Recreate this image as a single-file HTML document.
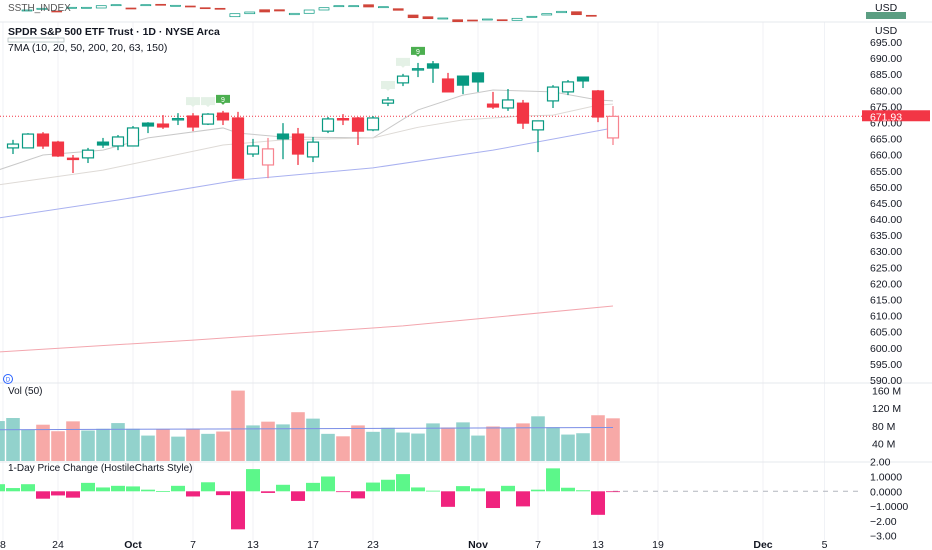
<!DOCTYPE html>
<html><head><meta charset="utf-8"><style>
html,body{margin:0;padding:0;background:#fff;width:932px;height:550px;overflow:hidden}
svg{display:block;font-family:"Liberation Sans",sans-serif}
</style></head><body>
<svg id="chart" width="932" height="550" xmlns="http://www.w3.org/2000/svg">
<rect x="0" y="0" width="932" height="550" fill="#ffffff"/>
<g id="grid"></g>
<g id="mini"></g>
<g id="mas"></g>
<g id="candles"></g>
<g id="bubbles"></g>
<g id="vol"></g>
<g id="chg"></g>
<g id="axes"></g>
<text x="8" y="11" font-size="10" fill="#555">SSTH_INDEX</text>
<text x="8" y="35" font-size="10.5" font-weight="bold" fill="#131722">SPDR S&amp;P 500 ETF Trust · 1D · NYSE Arca</text>
<rect x="8" y="38" width="56" height="4" fill="none" stroke="#9aa" stroke-width="0.6"/>
<text x="8" y="51" font-size="10.5" fill="#131722">7MA (10, 20, 50, 200, 20, 63, 150)</text>
<circle cx="8" cy="379" r="4.5" fill="none" stroke="#2962ff" stroke-width="1"/>
<text x="8" y="381.5" font-size="6" fill="#2962ff" text-anchor="middle">D</text>
<text x="8" y="394" font-size="10" fill="#131722">Vol (50)</text>
<text x="8" y="471" font-size="10" fill="#131722">1-Day Price Change (HostileCharts Style)</text>
</svg>
<script>
const NS='http://www.w3.org/2000/svg';
// ---- main candle data (index k: 0..40) ----
const opens=[662.1,662.1,666.4,663.9,658.9,659.0,663.9,662.7,662.7,669.8,669.5,671.0,672.0,669.5,672.9,671.4,660.2,656.8,666.4,666.4,659.3,667.3,671.2,671.4,667.7,676.0,682.3,686.5,688.2,683.5,684.4,685.4,675.7,674.5,676.0,667.7,676.7,679.5,684.1,679.8,665.2];
const highs=[664.6,666.7,667.0,664.3,659.9,662.1,665.2,666.1,668.9,670.1,672.3,672.9,672.9,672.9,673.6,673.3,664.9,665.2,669.8,668.3,665.5,671.7,672.6,671.7,672.0,677.9,685.1,688.5,689.1,685.4,684.4,685.4,679.5,680.4,677.0,670.5,681.6,683.2,684.1,680.1,675.1];
const lows=[660.2,662.1,661.8,659.3,654.3,657.4,662.1,661.4,662.7,666.7,668.0,669.2,667.3,669.2,669.2,652.7,659.3,652.7,658.6,656.8,657.7,666.7,669.2,663.0,667.3,675.1,681.3,684.1,682.3,679.5,678.8,679.5,674.2,673.6,668.0,660.8,674.5,678.5,680.7,670.1,663.0];
const closes=[663.3,666.4,662.7,659.6,658.6,661.4,663.0,665.5,668.3,668.9,668.6,671.2,668.6,672.6,670.8,652.7,662.7,661.8,664.9,660.2,663.9,671.1,671.0,667.3,671.4,677.0,684.4,686.7,686.9,679.5,681.6,682.6,674.8,677.0,669.8,670.5,681.0,682.6,682.9,671.7,671.9];
const styles=['h','h','r','r','r','h','g','h','h','g','r','h','r','h','r','r','h','hr','g','r','h','h','r','r','h','h','h','h','g','r','g','g','r','h','r','h','h','h','g','r','hr'];
// ---- moving averages (index, price) ----
const ma10Idx=[-1,2,6,9,14,15,18,24,27,30,32,36,39,40];
const ma10Val=[655.2,659.9,661.4,665.2,668.3,666.7,665.5,665.2,673.9,678.5,680.1,679.5,677.0,676.7];
const ma20Idx=[-1,6,14,18,24,27,30,34,36,39,40];
const ma20Val=[650.6,655.2,663.0,664.6,665.2,668.5,670.8,672.0,672.3,675.4,675.7];
const ma50Idx=[-1,7,15,24,32,40];
const ma50Val=[640.3,645.9,652.1,655.9,661.4,668.3];
const ma200Idx=[-1,12,26,40];
const ma200Val=[598.7,602.4,606.8,613.0];
// ---- volume (index -1..40), millions ----
const volumes=[90.8,97.7,70.9,82.5,67.7,90.1,69.3,73.2,86.2,73.2,57.8,71.6,55.4,73.2,61.7,67,160,80.9,89.4,83.2,110.9,96.3,61.7,56.1,80.9,66.3,75.5,64.7,62.4,85.5,76.2,87.8,57.8,78.5,75.5,85.5,101.6,76.9,60.1,63.1,104,97];
const volUp=[1,1,1,0,0,0,1,1,1,1,1,0,1,0,1,0,0,1,0,1,0,1,1,0,0,1,1,1,1,1,0,1,1,0,1,0,1,1,1,1,0,0];
const volMA=[71,76];
// ---- 1-day change (index -1..40) ----
const changes=[0.48,0.22,0.48,-0.5,-0.28,-0.43,0.57,0.26,0.37,0.33,0.11,0.02,0.37,-0.35,0.61,-0.26,-2.57,1.5,-0.11,0.44,-0.65,0.57,1.0,-0.02,-0.48,0.59,0.78,1.16,0.26,0.04,-1.05,0.35,0.2,-1.13,0.37,-1.02,0.11,1.55,0.24,0.07,-1.59,-0.02];
// ---- axis ticks ----
const priceTicks=[695,690,685,680,675,670,665,660,655,650,645,640,635,630,625,620,615,610,605,600,595,590];
const volTicks=[160,120,80,40];
const volTickLabels=['160 M','120 M','80 M','40 M'];
const chgTicks=[2,1,0,-1,-2,-3];
const chgTickLabels=['2.00','1.0000','0.0000','\u22121.0000','\u22122.00','\u22123.00'];
const xLabels=['8','24','Oct','7','13','17','23','Nov','7','13','19','Dec','5'];
const xLabelIdx=[-0.67,3,8,12,16,20,24,31,35,39,43,50,54.1];
const lastPrice=671.93;
// ---- index strip mini candles ----
const miniO=[89,91.7,89,92.7,92.7,92,95.3,92,94.7,95.7,94.7,94,91.3,91.7,86.3,88,90.3,89,86.7,90,92.3,94,94.3,93,93.3,89.7,82.3,81.3,82,78.3,80,80,79.3,79.7,83.7,85,87.3,88.3,84.7];
const miniC=[90,90.7,88.3,92.7,92.7,94.3,94.7,91.7,95.3,95.7,94.7,94,92.3,90.7,83.3,86.3,88,90.3,85.3,86.7,90,94.3,94.3,95.3,93.3,91.3,85,83.3,82,80.3,80,81,80.3,81.7,83.7,86.3,88.7,85.3,84.7];
const miniUp=[1,1,0,1,1,1,1,0,1,0,1,0,0,0,1,1,0,0,1,1,1,1,1,0,1,0,0,0,1,0,0,1,0,1,1,1,1,0,0];

function xOf(k){return 13+15*k;}
function yP(p){return 42+(695-p)*3.219;}
function yV(v){return 461-v*0.44;}
function yC(c){return 491.3-c*14.8;}
function mk(tag,attrs,parent){const e=document.createElementNS(NS,tag);for(const a in attrs)e.setAttribute(a,attrs[a]);parent.appendChild(e);return e;}

const grid=document.getElementById('grid');
xLabelIdx.forEach((k,i)=>{
  const l=mk('line',{x1:xOf(k),x2:xOf(k),y1:22,y2:540,stroke:'#f0f2f6','stroke-width':1},grid);
  
  
});
[[0,22],[0,383],[0,462]].forEach(s=>{
  const l=mk('line',{x1:0,x2:932,y1:s[1],y2:s[1],stroke:'#e6e8ec','stroke-width':1},grid);
  
  
});

// mini strip
const mini=document.getElementById('mini');
miniO.forEach((o,i)=>{
  const c=miniC[i];const x=27+14.85*i;
  const top=100-Math.max(o,c),bot=100-Math.min(o,c);
  const col=miniUp[i]?'#089981':'#d0453a';
  const r=mk('rect',{x:x-5,y:top,width:10,height:Math.max(bot-top,1),fill:miniUp[i]?'#fff':'#d0453a',stroke:col,'stroke-width':0.7},mini);
  
  
});

// MAs
const mas=document.getElementById('mas');
[[ma10Idx,ma10Val,'#c9c9c9'],[ma20Idx,ma20Val,'#dedad6'],[ma50Idx,ma50Val,'#a9b1f0'],[ma200Idx,ma200Val,'#f3a6ae']].forEach((m,j)=>{
  const pts=m[0].map((k,i)=>xOf(k)+','+yP(m[1][i])).join(' ');
  const pl=mk('polyline',{points:pts,fill:'none',stroke:m[2],'stroke-width':1},mas);
  
  
});

// last price dotted line
const lp=mk('line',{x1:0,x2:862,y1:yP(lastPrice),y2:yP(lastPrice),stroke:'#f23645','stroke-width':1,'stroke-dasharray':'1,2'},mas);



// candles
const cg=document.getElementById('candles');
opens.forEach((o,k)=>{
  const c=closes[k],h=highs[k],l=lows[k],s=styles[k];
  const x=xOf(k);
  const col=(s==='r')?'#f23645':(s==='hr'?'#f7848f':'#089981');
  const w=mk('line',{x1:x,x2:x,y1:yP(h),y2:yP(l),stroke:col,'stroke-width':1.3},cg);
  
  
  const top=yP(Math.max(o,c)),bot=yP(Math.min(o,c));
  const fill=(s==='h'||s==='hr')?'#fff':col;
  const b=mk('rect',{x:x-5.5,y:top,width:11,height:Math.max(bot-top,1.3),fill:fill,stroke:col,'stroke-width':1.2},cg);
  
  
});

// bubbles
const bg=document.getElementById('bubbles');
[[12,false],[13,false],[14,true],[25,false],[26,false],[27,true]].forEach(bb=>{
  const k=bb[0];const x=xOf(k);const yb=yP(highs[k])-6;
  const col=bb[1]?'#4caf50':'#e4f1e6';
  const r=mk('path',{d:`M${x-7},${yb-10} h14 v8 h-5 l-2,2 l-2,-2 h-5 z`,fill:col},bg);
  
  
  if(bb[1]){const t=mk('text',{x:x,y:yb-3,'font-size':7,fill:'#fff','text-anchor':'middle'},bg);t.textContent='9';
    
    }
});

// volume
const vg=document.getElementById('vol');
volumes.forEach((v,i)=>{
  const k=i-1;const x=xOf(k);
  const r=mk('rect',{x:x-6.8,y:yV(v),width:13.6,height:yV(0)-yV(v),fill:volUp[i]?'#92d2cc':'#f7a9a7'},vg);
  
  
});
const vm=mk('line',{x1:0,x2:xOf(40),y1:yV(volMA[0]),y2:yV(volMA[1]),stroke:'#7b8ee6','stroke-width':1},vg);



// price change
const chg=document.getElementById('chg');
const zl=mk('line',{x1:xOf(40),x2:860,y1:yC(0),y2:yC(0),stroke:'#b2b5be','stroke-width':1,'stroke-dasharray':'5,5'},chg);


changes.forEach((c,i)=>{
  const k=i-1;const x=xOf(k);
  const y1=Math.min(yC(c),yC(0)),h=Math.max(Math.abs(yC(c)-yC(0)),0.8);
  const r=mk('rect',{x:x-7,y:y1,width:14,height:h,fill:c>=0?'#5cf78a':'#f0237e'},chg);
  
  
});

// axes
const ax=document.getElementById('axes');
function txt(x,y,s,attrs,name){const t=mk('text',Object.assign({x:x,y:y,'font-size':10.5,fill:'#131722'},attrs||{}),ax);t.textContent=s;
  
  return t;}
txt(875,11,'USD',{},'strip-currency');
const gb=mk('rect',{x:866,y:12,width:40,height:7,fill:'#5b9e82'},ax);


txt(875,34,'USD',{},'price-currency');
priceTicks.forEach(p=>txt(870,yP(p)+4,p.toFixed(2),{},'price-tick'));
const tag=mk('rect',{x:862,y:yP(lastPrice)-6,width:68,height:11,fill:'#f23645'},ax);


txt(870,yP(lastPrice)+4,lastPrice.toFixed(2),{fill:'#fff'},'last-price-text');
volTicks.forEach((v,i)=>txt(872,yV(v)+4,volTickLabels[i],{},'volume-tick'));
chgTicks.forEach((c,i)=>txt(870,yC(c)+4,chgTickLabels[i],{},'change-tick'));
xLabels.forEach((s,i)=>txt(xOf(xLabelIdx[i]),548,s,{'text-anchor':'middle','font-weight':(s==='Oct'||s==='Nov'||s==='Dec')?'bold':'normal'},'x-tick'));
</script>
</body></html>
